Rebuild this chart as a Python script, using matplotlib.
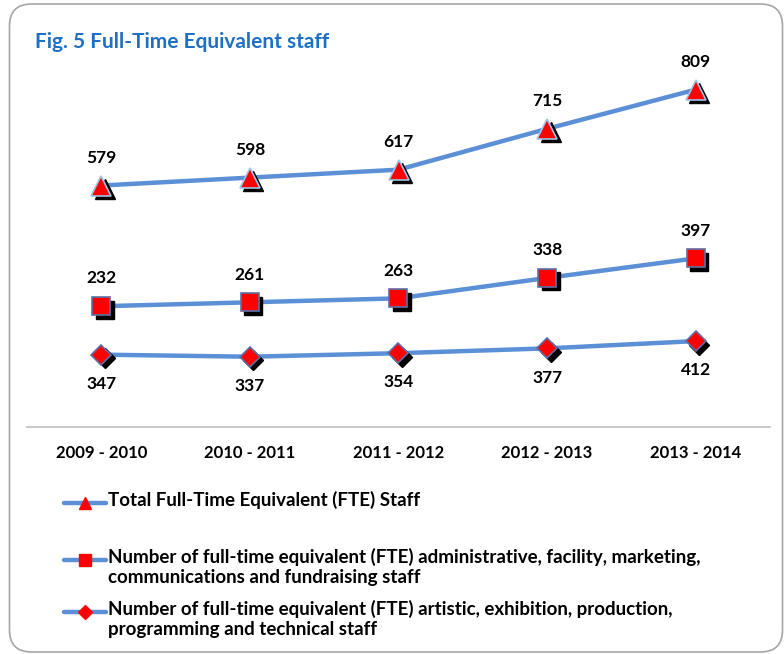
import matplotlib
matplotlib.use("Agg")
import matplotlib.pyplot as plt
import matplotlib.transforms as mtransforms
from matplotlib.lines import Line2D
from matplotlib.patches import FancyBboxPatch

# data
years = ["2009 - 2010", "2010 - 2011", "2011 - 2012", "2012 - 2013", "2013 - 2014"]
total_fte = [579, 598, 617, 715, 809]
admin_fte = [232, 261, 263, 338, 397]
artistic_fte = [347, 337, 354, 377, 412]

labels = [
    "Total Full-Time Equivalent (FTE) Staff",
    "Number of full-time equivalent (FTE) administrative, facility, marketing,\ncommunications and fundraising staff",
    "Number of full-time equivalent (FTE) artistic, exhibition, production,\nprogramming and technical staff",
]

line_col = "#5B8FD6"
red = "#FF0000"
W, H = 784, 654

plt.rcParams['font.family'] = ['Lato', 'DejaVu Sans']

fig = plt.figure(figsize=(W / 100, H / 100), dpi=100)


def fx(px):
    return px / W


def fy(py):
    return 1 - py / H


# plot area: zero line at y=427 px, top at y=60 px
ax = fig.add_axes([fx(27), fy(427), fx(770) - fx(27), fy(60) - fy(427)])
ymax = 880
ax.set_xlim(-0.5, 4.5)
ax.set_ylim(0, ymax)

# admin + artistic are a stacked line pair on a secondary axis (half scale)
ax2 = ax.twinx()
ax2.set_ylim(0, 2 * ymax)
stacked = [a + b for a, b in zip(admin_fte, artistic_fte)]

x = range(len(years))


def draw(axis, yvals, marker, ms, edge, texts, above):
    shadow = mtransforms.offset_copy(axis.transData, fig=fig, x=3.5, y=-3.5, units='dots')
    axis.plot(x, yvals, color=line_col, lw=3.2, solid_capstyle='round', zorder=2)
    axis.plot(x, yvals, ls='none', marker=marker, ms=ms, color='black',
              mec='black', transform=shadow, zorder=3)
    axis.plot(x, yvals, ls='none', marker=marker, ms=ms, color=red,
              mec=edge, mew=1.2, zorder=4)
    for xi, yi, t in zip(x, yvals, texts):
        axis.annotate(str(t), (xi, yi), xytext=(0, 20 if above else -21),
                      textcoords='offset points', ha='center', va='center',
                      fontsize=12.5, fontweight='bold', color='black')


draw(ax, total_fte, '^', 14, '#9DC3E6', total_fte, True)
draw(ax2, stacked, 's', 12.5, '#5E6FA6', admin_fte, True)
draw(ax2, artistic_fte, 'D', 10, '#5E6FA6', artistic_fte, False)

for a in (ax, ax2):
    for s in ('top', 'right', 'left'):
        a.spines[s].set_visible(False)
    a.set_yticks([])
ax2.spines['bottom'].set_visible(False)
ax.spines['bottom'].set_color('#BFBFBF')
ax.spines['bottom'].set_linewidth(1.2)
ax.set_xticks(list(x))
ax.set_xticklabels(years, fontsize=12, fontweight='bold')
ax.tick_params(axis='x', length=0, pad=13)

# title
fig.text(fx(35), fy(42), "Fig. 5 Full-Time Equivalent staff", color='#1F70C2',
         fontsize=15, fontweight='bold', ha='left', va='center')

# legend (drawn by hand to keep Excel's spacing)
legend_rows = [503, 560, 612]
legend_markers = [('^', 8.5), ('s', 8), ('D', 7)]
for row, lab, (mk, ms) in zip(legend_rows, labels, legend_markers):
    fig.add_artist(Line2D([fx(64), fx(106)], [fy(row), fy(row)], color=line_col, lw=3.2,
                          solid_capstyle='round', transform=fig.transFigure))
    fig.add_artist(Line2D([fx(85)], [fy(row)], marker=mk, ms=ms, color=red, mec=red,
                          ls='none', transform=fig.transFigure))
    fig.text(fx(108), fy(row - 12), lab, fontsize=13.5, fontweight='bold', ha='left',
             va='top', linespacing=1.22)

# rounded chart border
border = FancyBboxPatch((9.5, H - 652), 773, 648, boxstyle="round,pad=0,rounding_size=22",
                        transform=None, fill=False, ec='#A6A6A6', lw=1.2)
fig.add_artist(border)

fig.savefig("out.png", dpi=100)
